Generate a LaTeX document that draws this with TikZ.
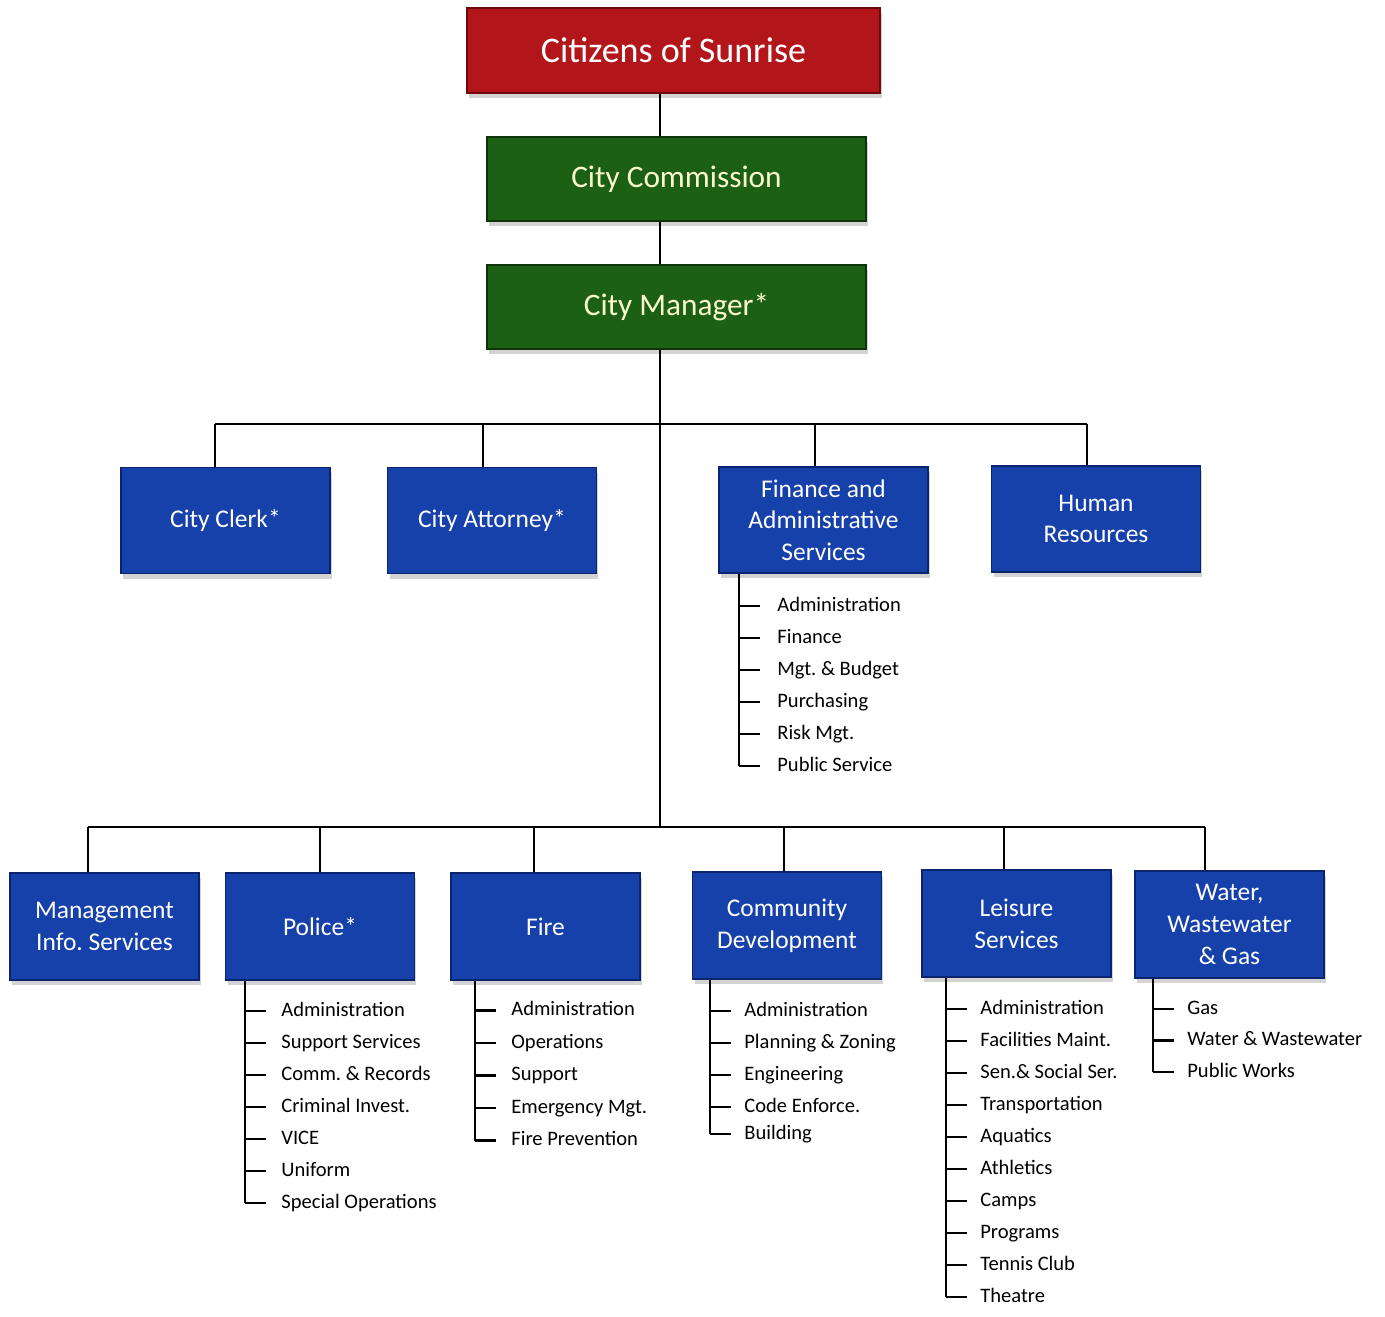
\documentclass[tikz,border=0pt]{standalone}
\usepackage{fontspec}
\setmainfont{Carlito}
\usetikzlibrary{shadows}
\frenchspacing

\definecolor{sunred}{RGB}{178,22,26}
\definecolor{sunredline}{RGB}{110,10,12}
\definecolor{cmgreen}{RGB}{28,96,22}
\definecolor{cmgreenline}{RGB}{14,50,10}
\definecolor{deptblue}{RGB}{22,64,170}
\definecolor{deptblueline}{RGB}{12,36,110}
\definecolor{cream}{RGB}{250,250,205}

\tikzset{
  box/.style={draw, line width=0.8pt, align=center, inner sep=2pt, text=white,
    drop shadow={opacity=0.35, shadow xshift=0.04cm, shadow yshift=-0.1cm}},
  redbox/.style={box, fill=sunred, draw=sunredline, minimum width=8.26cm,
    minimum height=1.7cm, font=\fontsize{20.5}{24}\selectfont},
  greenbox/.style={box, fill=cmgreen, draw=cmgreenline, text=cream, minimum width=7.58cm,
    minimum height=1.68cm, font=\fontsize{17.8}{22}\selectfont},
  bluebox/.style={box, fill=deptblue, draw=deptblueline, minimum width=4.18cm,
    minimum height=2.12cm, font=\fontsize{14.5}{18}\selectfont},
  lowbox/.style={bluebox, minimum width=3.78cm, minimum height=2.14cm},
  item/.style={anchor=west, inner sep=0pt, text height=8.4pt, text depth=2.6pt,
    font=\fontsize{11.7}{14}\selectfont},
  link/.style={line width=1.3pt}
}

\begin{document}
\begin{tikzpicture}[x=0.02cm, y=-0.02cm]
\useasboundingbox (0,0) rectangle (1385,1316);

% top of the chart
\node[redbox] (citizens) at (673.5,50.5) {Citizens of Sunrise};
\node[greenbox] (commission) at (676.5,179) {City Commission};
\node[greenbox] (manager) at (676.5,307) {City Manager*};

% departments under the manager
\node[bluebox] (clerk) at (225.5,520.5) {City Clerk*};
\node[bluebox] (attorney) at (492,520.5) {City Attorney*};
\node[bluebox] (finance) at (823.5,520) {Finance and\\Administrative\\Services};
\node[bluebox] (hr) at (1096,519) {Human\\Resources};

\node[lowbox] (mis) at (104.5,926.5) {Management\\Info. Services};
\node[lowbox] (police) at (320,926.5) {Police*};
\node[lowbox] (fire) at (545.5,926.5) {Fire};
\node[lowbox] (commdev) at (787,925.5) {Community\\Development};
\node[lowbox] (leisure) at (1016.5,923.5) {Leisure\\Services};
\node[lowbox] (water) at (1229.5,924.5) {Water,\\Wastewater\\\& Gas};

% trunk
\coordinate (trunk) at (660,0);
\coordinate (upper) at (660,424);
\coordinate (lower) at (660,827);
\draw[link] (citizens.south -| trunk) -- (commission.north -| trunk);
\draw[link] (commission.south -| trunk) -- (manager.north -| trunk);
\draw[link] (manager.south -| trunk) -- (lower);
\draw[link] (upper -| 215,0) -- (upper -| 1087,0);
\draw[link] (lower -| 88,0) -- (lower -| 1205,0);
\foreach \n/\x in {clerk/215, attorney/483, finance/815, hr/1087}
  \draw[link] (upper -| \x,0) -- (\n.north -| \x,0);
\foreach \n/\x in {mis/88, police/320, fire/534, commdev/784, leisure/1004, water/1205}
  \draw[link] (lower -| \x,0) -- (\n.north -| \x,0);

% sections of each department
\coordinate (finbar) at (739,0);
\foreach \t [count=\i] in {Administration, Finance, Mgt. \& Budget, Purchasing, Risk Mgt., Public Service}
  \node[item] (fin\i) at (777, 574+32*\i) {\t};
\draw[link] (finance.south -| finbar) -- (finbar |- fin6.west);
\foreach \i in {1,...,6}
  \draw[link] (finbar |- fin\i.west) -- ++(21,0);

\coordinate (polbar) at (245,0);
\foreach \t [count=\i] in {Administration, Support Services, Comm. \& Records, Criminal Invest., VICE, Uniform, Special Operations}
  \node[item] (pol\i) at (281, 979+32*\i) {\t};
\draw[link] (police.south -| polbar) -- (polbar |- pol7.west);
\foreach \i in {1,...,7}
  \draw[link] (polbar |- pol\i.west) -- ++(21,0);

\coordinate (firebar) at (475,0);
\foreach \t [count=\i] in {Administration, Operations, Support, Emergency Mgt., Fire Prevention}
  \node[item] (fir\i) at (511, 978+32.5*\i) {\t};
\draw[link] (fire.south -| firebar) -- (firebar |- fir5.west);
\foreach \i in {1,...,5}
  \draw[link] (firebar |- fir\i.west) -- ++(21,0);

\coordinate (cdbar) at (710,0);
\foreach \t/\y [count=\i] in {Administration/1011, Planning \& Zoning/1043, Engineering/1075, Code Enforce./1107, Building/1134}
  \node[item] (cd\i) at (744,\y) {\t};
\draw[link] (commdev.south -| cdbar) -- (cdbar |- cd5.west);
\foreach \i in {1,...,5}
  \draw[link] (cdbar |- cd\i.west) -- ++(21,0);

\coordinate (leibar) at (946,0);
\foreach \t [count=\i] in {Administration, Facilities Maint., Sen.\& Social Ser., Transportation, Aquatics, Athletics, Camps, Programs, Tennis Club, Theatre}
  \node[item] (lei\i) at (980, 977+32*\i) {\t};
\draw[link] (leisure.south -| leibar) -- (leibar |- lei10.west);
\foreach \i in {1,...,10}
  \draw[link] (leibar |- lei\i.west) -- ++(21,0);

\coordinate (wtrbar) at (1153,0);
\foreach \t [count=\i] in {Gas, Water \& Wastewater, Public Works}
  \node[item] (wtr\i) at (1187, 977.5+31.5*\i) {\t};
\draw[link] (water.south -| wtrbar) -- (wtrbar |- wtr3.west);
\foreach \i in {1,...,3}
  \draw[link] (wtrbar |- wtr\i.west) -- ++(21,0);
\end{tikzpicture}
\end{document}
